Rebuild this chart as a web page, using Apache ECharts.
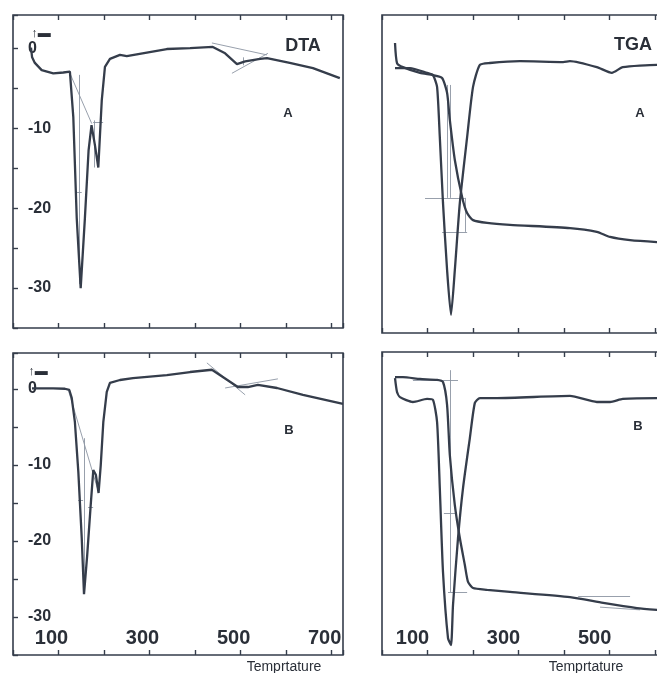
<!DOCTYPE html>
<html>
<head>
<meta charset="utf-8">
<script src="https://cdn.jsdelivr.net/npm/echarts@6/dist/echarts.min.js"></script>
<style>
  html, body { margin: 0; padding: 0; background: #fff; }
  #thermo { width: 657px; height: 673px; }
</style>
</head>
<body>
<div id="thermo"></div>
<script>
// DTA / TGA curves, sample A (top) and B (bottom)
const tempDtaA = [39.5, 42, 48, 63, 88.5, 110.5, 125, 132.5, 140, 148.7, 158, 166, 172.5, 180, 187.4, 195, 202, 213, 235, 250, 338, 389, 439, 466, 492, 510, 543, 558, 608, 659, 718];
const dtaA = [0.1, -1.1, -1.8, -2.7, -3.1, -3.0, -2.9, -8.6, -21.2, -30.0, -21.2, -12.8, -9.6, -12.1, -14.9, -6.5, -2.3, -1.3, -0.8, -0.95, -0.06, 0.06, 0.2, -0.6, -1.95, -1.6, -1.3, -1.2, -1.8, -2.45, -3.7];

const tempDtaB = [41.7, 88, 114, 123.7, 129, 136, 143.5, 151, 156, 163, 170.7, 176.4, 182, 188, 192.7, 198.4, 206, 213, 235, 263.6, 338, 389, 437, 461, 494, 516, 538, 580, 637, 725];
const dtaB = [0.06, 0.06, 0.0, -0.16, -1.2, -4.4, -10.9, -19.6, -27.0, -21.9, -15.3, -10.7, -11.3, -13.7, -10.1, -4.4, -0.4, 0.76, 1.15, 1.4, 1.8, 2.2, 2.5, 1.55, 0.23, 0.23, 0.5, 0.1, -0.8, -2.0];

const tempTgaA = [28.6, 33, 46, 83.5, 112, 132, 143, 149, 160, 176, 187, 200, 231, 281, 413, 472, 501, 545, 604, 725];
const massA = [91.2, 84.9, 83.6, 81.8, 81.1, 80.2, 75.5, 67.0, 54.4, 42.8, 37.7, 35.5, 34.6, 34.0, 33.0, 31.8, 30.2, 29.2, 28.6, 27.7];
const tempDtgA = [28.6, 61.5, 99, 112, 121, 127, 134, 143, 151.6, 160, 171, 187, 200, 215, 237, 303, 398, 413, 472, 505, 529, 604, 725];
const dtgA = [83.3, 83.3, 81.8, 81.1, 77.4, 61.6, 40.9, 19.8, 5.7, 19.8, 40.9, 61.6, 77.4, 84.3, 84.9, 85.5, 85.2, 85.5, 83.6, 81.8, 83.6, 84.3, 84.3];

const tempTgaB = [28.6, 46, 83.5, 121, 134, 143, 149, 160, 171, 182, 189, 200, 231, 281, 413, 486, 560, 604, 725];
const massB = [91.7, 91.7, 91.1, 90.8, 90.1, 82.5, 66.0, 49.5, 38.6, 29.7, 24.1, 22.1, 21.5, 20.8, 19.1, 17.2, 15.5, 14.9, 13.5];
const tempDtgB = [28.6, 33, 39.5, 68, 99, 112, 121, 127, 134, 145, 151.6, 156, 167, 178, 193, 204, 215, 253, 413, 472, 501, 529, 604, 725];
const dtgB = [91.4, 86.8, 85.1, 83.5, 84.5, 84.2, 76.9, 55.1, 27.4, 5.6, 3.3, 16.5, 38.6, 55.1, 71.6, 83.2, 84.8, 84.8, 85.5, 83.5, 83.5, 84.5, 84.8, 84.8];

// hand-drawn construction lines (onset tangents, markers), [temp, value] pairs
const guidesDtaA = [
  [[125, -3.1], [173, -9.4]], [[145, -3.3], [145, -29.5]], [[138, -18], [151, -18]],
  [[178.6, -9], [178.6, -14.9]], [[176, -9.2], [198, -9.2]],
  [[437, 0.7], [558, -0.8]], [[481, -3.1], [560, -0.6]], [[505, -1.1], [505, -2.1]]
];
const guidesDtaB = [
  [[121.5, -0.16], [185, -13]], [[156.6, -6.5], [156.6, -26.7]], [[143, -14.6], [154, -14.6]],
  [[165, -15.6], [176, -15.6]], [[426, 3.4], [510, -0.8]], [[466, 0.1], [582, 1.3]]
];
const guidesTgaA = [
  [[94.5, 42.5], [182, 42.5]], [[132, 31.8], [187, 31.8]], [[143, 78], [143, 42.5]],
  [[149.4, 78], [149.4, 42.5]], [[182, 42.5], [182, 31.8]]
];
const guidesTgaB = [
  [[68, 90.8], [167, 90.8]], [[149.4, 94], [149.4, 20.8]], [[145, 20.8], [187, 20.8]],
  [[136, 46.9], [163, 46.9]], [[431, 19.5], [545, 19.5]], [[479, 15.8], [567, 14.9]]
];

const tempMax = 725;
const ink = '#353d4b';
const faint = '#8d96a3';
const font = 'Liberation Sans, Arial, sans-serif';

const zip = (xs, ys) => xs.map((x, i) => [x, ys[i]]);

const panels = [
  { left: 13, top: 15, height: 313, yMin: -35, yMax: 4.2, dta: true, labels: false },
  { left: 382, top: 15, height: 318, yMin: 0, yMax: 100, dta: false, labels: false },
  { left: 13, top: 353, height: 302, yMin: -35, yMax: 4.7, dta: true, labels: true, pad: 14 },
  { left: 382, top: 352, height: 303, yMin: 0, yMax: 100, dta: false, labels: true, pad: 30 }
];

const grid = panels.map(p => ({
  left: p.left, top: p.top, width: 330, height: p.height,
  show: true, borderColor: ink, borderWidth: 1.6,
  containLabel: false, outerBoundsMode: 'none'
}));

const xAxis = [];
panels.forEach((p, i) => {
  xAxis.push({
    type: 'value', gridIndex: i, position: 'bottom', min: 0, max: tempMax, interval: 100,
    axisLine: { show: false, onZero: false },
    axisTick: { inside: true, length: 5, lineStyle: { color: ink, width: 1.4 } },
    splitLine: { show: false },
    axisLabel: {
      show: p.labels, inside: true, margin: 7, fontSize: 20, fontWeight: 'bold',
      fontFamily: font, color: '#2a2f38', padding: [0, p.pad || 0, 0, 0],
      formatter: v => (v % 200 === 100 ? String(v) : '')
    }
  });
  xAxis.push({
    type: 'value', gridIndex: i, position: 'top', min: 0, max: tempMax, interval: 100,
    axisLine: { show: false, onZero: false },
    axisTick: { inside: true, length: 5, lineStyle: { color: ink, width: 1.4 } },
    splitLine: { show: false },
    axisLabel: { show: false }
  });
});

const yAxis = panels.map((p, i) => p.dta ? {
  type: 'value', gridIndex: i, min: p.yMin, max: p.yMax, interval: 5,
  axisLine: { show: false, onZero: false },
  axisTick: { inside: true, length: 5, lineStyle: { color: ink, width: 1.4 } },
  splitLine: { show: false },
  axisLabel: {
    inside: true, margin: 15, fontSize: 16, fontWeight: 'bold', fontFamily: font, color: '#2a2f38',
    formatter: v => (Number.isInteger(v) && v % 10 === 0 ? String(v) : '')
  }
} : {
  type: 'value', gridIndex: i, min: p.yMin, max: p.yMax, show: false
});

const curve = (name, idx, data, smooth) => ({
  name, type: 'line', xAxisIndex: idx * 2, yAxisIndex: idx, data,
  symbol: 'none', smooth: smooth, lineStyle: { color: ink, width: 2.3 }, silent: true
});
const guides = (idx, segs) => ({
  type: 'lines', coordinateSystem: 'cartesian2d', xAxisIndex: idx * 2, yAxisIndex: idx,
  data: segs.map(s => ({ coords: s })), silent: true,
  lineStyle: { color: faint, width: 1, opacity: 0.9 }
});

const label = (text, x, y, size, weight) => ({
  type: 'text', x, y, silent: true,
  style: { text, fontSize: size, fontWeight: weight, fontFamily: font, fill: '#2a2f38', align: 'center', verticalAlign: 'middle' }
});

const option = {
  animation: false,
  grid,
  xAxis,
  yAxis,
  series: [
    guides(0, guidesDtaA), guides(1, guidesTgaA), guides(2, guidesDtaB), guides(3, guidesTgaB),
    curve('DTA A', 0, zip(tempDtaA, dtaA), false),
    curve('TGA A', 1, zip(tempTgaA, massA), 0.2),
    curve('DTG A', 1, zip(tempDtgA, dtgA), 0.2),
    curve('DTA B', 2, zip(tempDtaB, dtaB), false),
    curve('TGA B', 3, zip(tempTgaB, massB), 0.2),
    curve('DTG B', 3, zip(tempDtgB, dtgB), 0.2)
  ],
  graphic: [
    label('DTA', 303, 46, 18, 'bold'),
    label('TGA', 633, 45, 18, 'bold'),
    label('A', 288, 113, 13, 'bold'),
    label('A', 640, 113, 13, 'bold'),
    label('B', 289, 430, 13, 'bold'),
    label('B', 638, 426, 13, 'bold'),
    label('↑▬', 41, 33, 13, 'bold'),
    label('↑▬', 38, 371, 13, 'bold'),
    label('Temprtature', 284, 667, 14, 'normal'),
    label('Temprtature', 586, 667, 14, 'normal')
  ]
};

const chart = echarts.init(document.getElementById('thermo'));
chart.setOption(option);
window.addEventListener('resize', () => chart.resize());
</script>
</body>
</html>
